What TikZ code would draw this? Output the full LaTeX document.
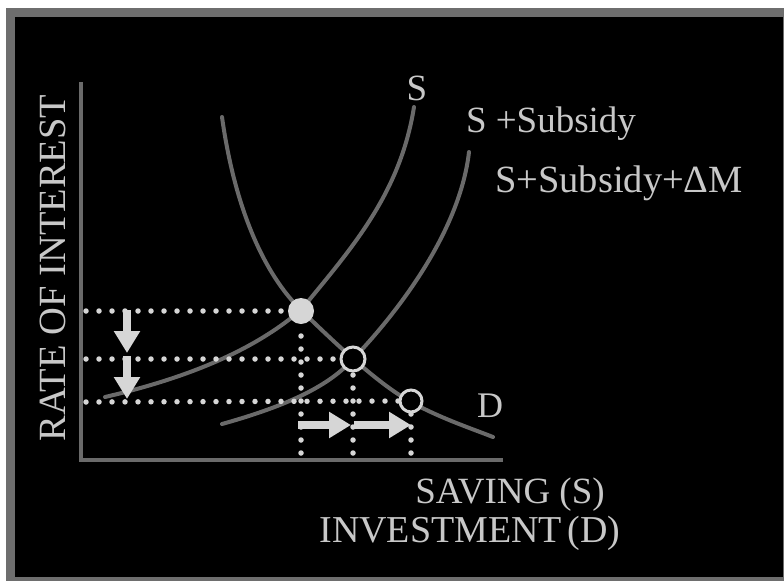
\documentclass[tikz,border=0pt]{standalone}
\usepackage{fontspec}
\setmainfont{Liberation Serif}
\usetikzlibrary{arrows.meta}
\definecolor{framegray}{HTML}{6E6E6E}
\definecolor{curvegray}{HTML}{6A6A6A}
\definecolor{lite}{HTML}{D6D6D6}
\definecolor{txt}{HTML}{C8C8C8}
\begin{document}
\begin{tikzpicture}[x=1pt,y=-1pt,
  curve/.style={curvegray,line width=4pt,line cap=round},
  dotline/.style={lite,line width=5.5pt,line cap=round,dash pattern=on 0pt off 13pt},
  bigarrow/.style={lite,line width=8pt,-{Triangle[width=25pt,length=22pt]}},
  lbl/.style={txt,inner sep=0pt,anchor=base}]
\useasboundingbox (0,0) rectangle (784,581);
\fill[white] (0,0) rectangle (784,581);
\fill[framegray] (6,8) rectangle (784,581);
\fill[black] (15,17) rectangle (783,577);
% axes
\draw[curvegray,line width=4pt] (81,82) -- (81,460) -- (503,460);
% curves
\draw[curve] (105,397) .. controls (200,375) and (260,345) .. (301,310)
                       .. controls (350,250) and (400,195) .. (414,107);
\draw[curve] (222,424) .. controls (290,405) and (330,385) .. (353,359)
                       .. controls (400,310) and (460,230) .. (469,152);
\draw[curve] (222,117) .. controls (235,210) and (265,275) .. (301,310)
                       .. controls (340,348) and (380,385) .. (411,402)
                       .. controls (440,418) and (470,428) .. (493,437);
% equilibrium points
\node[circle,fill=lite,minimum size=26pt,inner sep=0pt] (e1) at (301,311) {};
\node[circle,draw=lite,line width=3pt,fill=black,minimum size=24pt,inner sep=0pt] (e2) at (353,359) {};
\node[circle,draw=lite,line width=3pt,fill=black,minimum size=22pt,inner sep=0pt] (e3) at (411,401) {};
% dotted guides
\draw[dotline] (86,311) -- (e1.west);
\draw[dotline] (86,359) -- (e2.west);
\draw[dotline] (86,402) -- (e3.west);
\draw[dotline] (301,453) -- (e1.south);
\draw[dotline] (353,453) -- (e2.south);
\draw[dotline] (411,453) -- (e3.south);
% arrows
\draw[bigarrow] (127,310) -- (127,353);
\draw[bigarrow] (127,356) -- (127,399);
\draw[bigarrow] (298,425) -- (351,425);
\draw[bigarrow] (354,425) -- (411,425);
% labels
\node[lbl,font=\fontsize{37}{40}\selectfont] (ls) at (417,100) {S};
\node[lbl,font=\fontsize{37}{40}\selectfont] (lss) at (551,132) {S +Subsidy};
\node[lbl,font=\fontsize{38.5}{42}\selectfont] (lssm) at (619,192) {S+Subsidy+ΔM};
\node[lbl,font=\fontsize{36}{40}\selectfont] (ld) at (490,417) {D};
\node[lbl,font=\fontsize{37}{40}\selectfont] (lsav) at (510,503) {SAVING (S)};
\node[lbl,font=\fontsize{38}{40}\selectfont] (linv) at (470,542) {INVESTMENT\hspace{0.15em}(D)};
\node[lbl,font=\fontsize{38.5}{40}\selectfont,rotate=90] (lrate) at (65,268) {RATE OF INTEREST};
\end{tikzpicture}
\end{document}
